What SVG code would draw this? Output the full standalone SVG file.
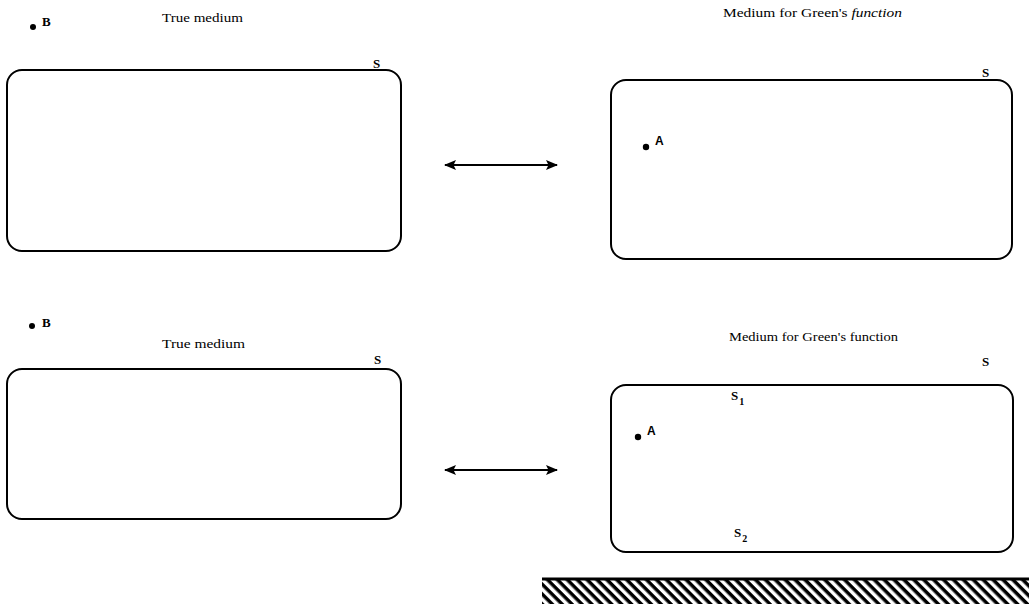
<svg xmlns="http://www.w3.org/2000/svg" width="1033" height="606" viewBox="0 0 1033 606">
<style>
.box{fill:none;stroke:#000;stroke-width:2}
.t{font-family:"Liberation Serif",serif;font-size:12.5px;fill:#000}
.b{font-family:"Liberation Serif",serif;font-size:13px;font-weight:bold;fill:#000}
.a{font-family:"Liberation Sans",sans-serif;font-size:12px;font-weight:bold;fill:#000}
.c{stroke:#000;stroke-width:2;fill:none}
</style>
<defs>
<marker id="ah" viewBox="0 0 12 10" refX="11" refY="5" markerWidth="6" markerHeight="5" orient="auto-start-reverse" markerUnits="strokeWidth">
<path d="M0,0 L12,5 L0,10 L2.5,5 z" fill="#000"/>
</marker>
<pattern id="hatch" width="7" height="7" patternUnits="userSpaceOnUse" patternTransform="rotate(45)">
<rect x="0" y="0" width="7" height="3.5" fill="#000"/>
</pattern>
</defs>
<g id="panel-top-left">
<rect class="box" x="7" y="70" width="394" height="181" rx="15"/>
<text class="t" x="162" y="22" textLength="81" lengthAdjust="spacingAndGlyphs">True medium</text>
<circle cx="33" cy="27" r="3"/>
<text class="b" x="42" y="26">B</text>
<text class="b" x="373" y="68">S</text>
</g>
<g id="panel-top-right">
<rect class="box" x="611" y="80" width="401" height="179" rx="15"/>
<text class="t" x="723" y="17" textLength="179" lengthAdjust="spacingAndGlyphs">Medium for Green's <tspan font-style="italic">function</tspan></text>
<text class="b" x="982" y="77">S</text>
<circle cx="646" cy="147" r="3.2"/>
<text class="a" x="655" y="145">A</text>
</g>
<g id="panel-bottom-left">
<rect class="box" x="7" y="369" width="394" height="150" rx="15"/>
<circle cx="32" cy="326" r="3"/>
<text class="b" x="42" y="327">B</text>
<text class="t" x="162" y="348" textLength="83" lengthAdjust="spacingAndGlyphs">True medium</text>
<text class="b" x="374" y="364">S</text>
</g>
<g id="panel-bottom-right">
<rect class="box" x="611" y="385" width="402" height="167" rx="15"/>
<text class="t" x="729" y="341" textLength="169" lengthAdjust="spacingAndGlyphs">Medium for Green's function</text>
<text class="b" x="982" y="366">S</text>
<text class="b" x="731" y="400">S<tspan font-size="10" dx="1" dy="5">1</tspan></text>
<circle cx="638" cy="437" r="3.2"/>
<text class="a" x="647" y="435">A</text>
<text class="b" x="734" y="537">S<tspan font-size="10" dx="1" dy="5">2</tspan></text>
</g>
<g id="ground">
<rect x="542" y="580" width="487" height="24" fill="url(#hatch)"/>
<line x1="542" y1="579" x2="1029" y2="579" stroke="#000" stroke-width="3"/>
</g>
<g id="connectors">
<line class="c" x1="445" y1="165" x2="557" y2="165" marker-start="url(#ah)" marker-end="url(#ah)"/>
<line class="c" x1="445" y1="470" x2="557" y2="470" marker-start="url(#ah)" marker-end="url(#ah)"/>
</g>
</svg>
